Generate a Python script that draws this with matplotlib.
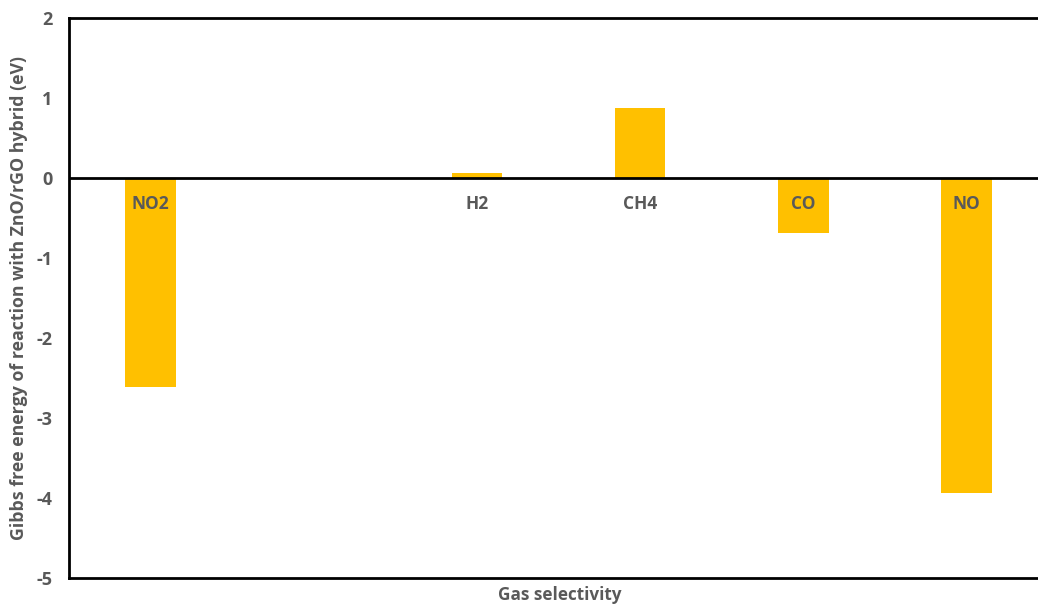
import matplotlib.pyplot as plt

plt.rcParams["axes.unicode_minus"] = False

GASES = ["NO2", "", "H2", "CH4", "CO", "NO"]
ENERGY = [-2.61, 0.0, 0.06, 0.88, -0.69, -3.94]

BAR = "#FFC000"
TXT = "#595959"
FONT = "Open Sans"

fig = plt.figure(figsize=(10.38, 6.06), dpi=100)
ax = fig.add_axes([69 / 1038, 28 / 606, 979 / 1038, 560 / 606])

x = range(len(GASES))
ax.bar(x, ENERGY, width=0.31, color=BAR, zorder=2)
ax.axhline(0, color="black", lw=2, zorder=3)

# category labels sit just under the zero line, like Excel does
for i, name in enumerate(GASES):
    ax.annotate(name, xy=(i, 0), xytext=(0, -26), textcoords="offset pixels",
                ha="center", va="center", fontsize=12.5, fontweight="bold",
                color=TXT, family=FONT, zorder=4)

ax.set_xlim(-0.5, len(GASES) - 0.5)
ax.set_ylim(-5, 2)
ax.set_yticks(range(-5, 3))
ax.set_xticks([])
ax.tick_params(axis="y", length=0, pad=12, labelsize=13, labelcolor=TXT)
for lab in ax.get_yticklabels():
    lab.set_fontweight("bold")
    lab.set_family(FONT)

for spine in ax.spines.values():
    spine.set_linewidth(2)
    spine.set_edgecolor("black")
ax.spines["right"].set_visible(False)

ax.set_ylabel("Gibbs free energy of reaction with ZnO/rGO hybrid (eV)",
              fontsize=12.8, fontweight="bold", color=TXT, family=FONT, labelpad=6)
fig.text(560 / 1038, 1 - 595 / 606, "Gas selectivity", ha="center", va="center",
         fontsize=12.3, fontweight="bold", color=TXT, family=FONT)

plt.savefig("out.png", dpi=100)
